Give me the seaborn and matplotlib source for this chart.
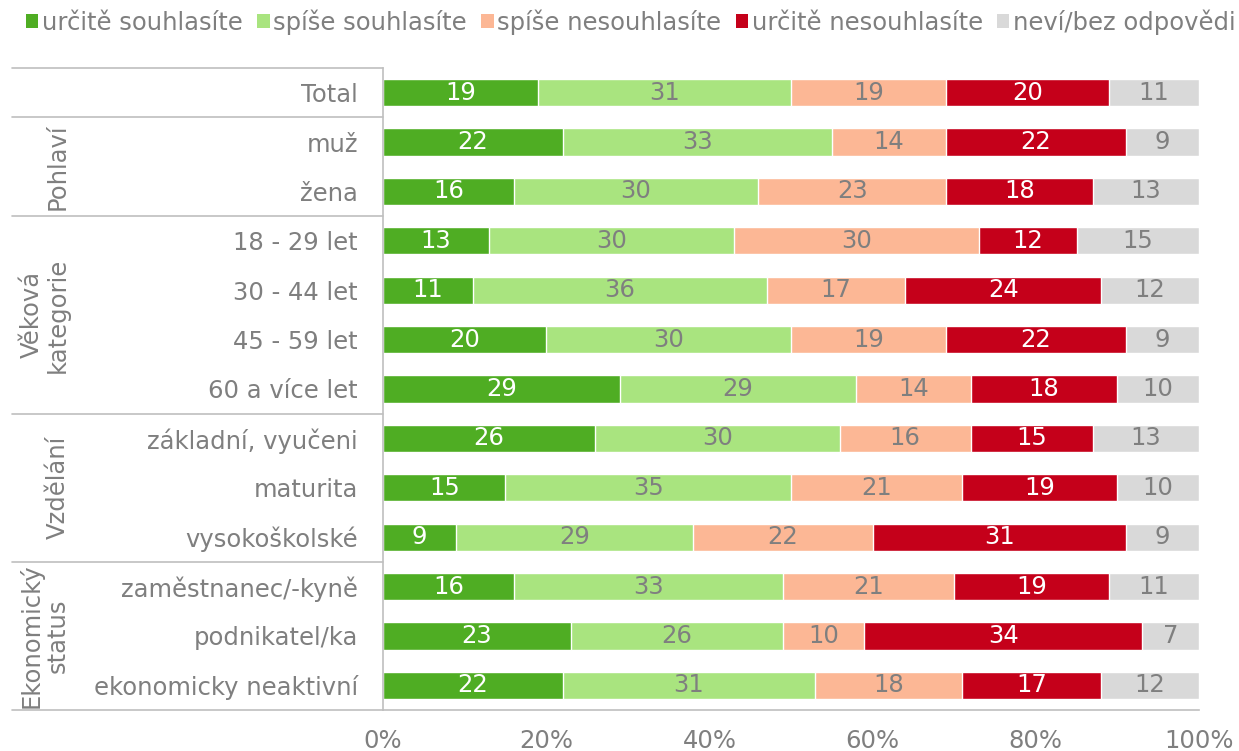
import numpy as np
import pandas as pd
import seaborn as sns
import matplotlib.pyplot as plt
from matplotlib.patches import Patch

# row labels (top to bottom)
rows = ["Total", "muž", "žena", "18 - 29 let", "30 - 44 let", "45 - 59 let",
        "60 a více let", "základní, vyučeni", "maturita", "vysokoškolské",
        "zaměstnanec/-kyně", "podnikatel/ka", "ekonomicky neaktivní"]

# answer categories
answers = ["určitě souhlasíte", "spíše souhlasíte", "spíše nesouhlasíte",
           "určitě nesouhlasíte", "neví/bez odpovědi"]

urcite_souhlasite = [19, 22, 16, 13, 11, 20, 29, 26, 15, 9, 16, 23, 22]
spise_souhlasite = [31, 33, 30, 30, 36, 30, 29, 30, 35, 29, 33, 26, 31]
spise_nesouhlasite = [19, 14, 23, 30, 17, 19, 14, 16, 21, 22, 21, 10, 18]
urcite_nesouhlasite = [20, 22, 18, 12, 24, 22, 18, 15, 19, 31, 19, 34, 17]
nevi = [11, 9, 13, 15, 12, 9, 10, 13, 10, 9, 11, 7, 12]

# groups: label, first row, last row
groups = [("Pohlaví", 1, 2), ("Věková\nkategorie", 3, 6),
          ("Vzdělání", 7, 9), ("Ekonomický\nstatus", 10, 12)]

colors = ["#4FAD23", "#A9E47F", "#FCB795", "#C5001A", "#D9D9D9"]
text_colors = ["white", "#7F7F7F", "#7F7F7F", "white", "#7F7F7F"]
grey = "#7F7F7F"
line_grey = "#BFBFBF"
fs = 17.5

sns.set_style("white")
plt.rcParams["font.family"] = ["DejaVu Sans"]

df = pd.DataFrame({"row": rows})
series = [urcite_souhlasite, spise_souhlasite, spise_nesouhlasite,
          urcite_nesouhlasite, nevi]
vals = np.array(series, dtype=float)
cums = vals.cumsum(axis=0)
for i, a in enumerate(answers):
    df[a] = cums[i]

fig = plt.figure(figsize=(12.39, 7.51), dpi=100)
ax = fig.add_axes([383 / 1239, 1 - 710 / 751, 816 / 1239, 642 / 751])

# stacked bars: draw cumulative totals from the back to the front
for i in range(len(answers) - 1, -1, -1):
    sns.barplot(data=df, x=answers[i], y="row", order=rows, orient="h",
                color=colors[i], saturation=1, width=0.55, ax=ax)

# value labels
for i in range(len(answers)):
    for j in range(len(rows)):
        left = cums[i][j] - vals[i][j]
        ax.text(left + vals[i][j] / 2, j, f"{int(vals[i][j])}",
                ha="center", va="center", fontsize=fs, color=text_colors[i])

ax.set_xlim(0, 100)
ax.set_ylim(len(rows) - 0.5, -0.5)
ax.set_xticks(np.arange(0, 101, 20))
ax.set_xticklabels([f"{t}%" for t in range(0, 101, 20)])
ax.set_xlabel("")
ax.set_ylabel("")
ax.tick_params(axis="x", direction="in", length=6, width=1, color=line_grey,
               labelsize=fs, labelcolor=grey, pad=14)
ax.tick_params(axis="y", length=0, labelsize=fs, labelcolor=grey, pad=18)
for s in ["top", "right"]:
    ax.spines[s].set_visible(False)
for s in ["left", "bottom"]:
    ax.spines[s].set_color(line_grey)
    ax.spines[s].set_linewidth(1.2)

# group separators and group labels on the left
x0 = (12 - 383) / 816
trans = ax.get_yaxis_transform()
for b in [-0.5, 0.5, 2.5, 6.5, 9.5, 12.5]:
    ax.plot([x0, 0], [b, b], color=line_grey, lw=1.2, transform=trans,
            clip_on=False)
for label, r0, r1 in groups:
    ax.text((70 - 383) / 816, (r0 + r1) / 2, label, rotation=90,
            ha="right", va="center", ma="center", fontsize=fs, color=grey,
            transform=trans, linespacing=1.1)

handles = [Patch(facecolor=c, edgecolor="none") for c in colors]
fig.legend(handles, answers, loc="center", bbox_to_anchor=(631 / 1239, 1 - 22 / 751),
           ncol=5, frameon=False, fontsize=fs, labelcolor=grey,
           handlelength=0.5, handleheight=0.5, handletextpad=0.15,
           columnspacing=0.6, borderpad=0.1)

fig.savefig("out.png", dpi=100)
